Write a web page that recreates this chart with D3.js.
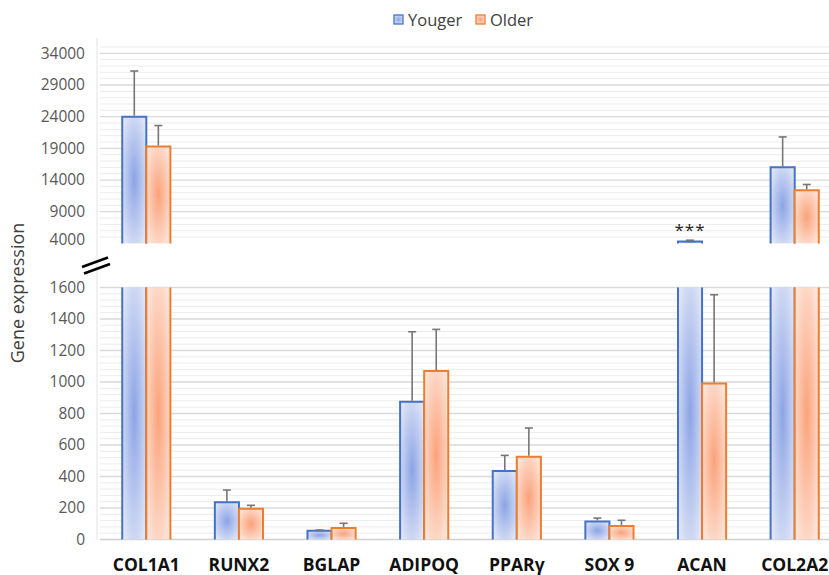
<!DOCTYPE html>
<html>
<head>
<meta charset="utf-8">
<script src="https://cdn.jsdelivr.net/npm/d3@7"></script>
<style>
  body { margin: 0; background: #fff; }
  svg { display: block; font-family: "Open Sans", "Liberation Sans", sans-serif; }
</style>
</head>
<body>
<div id="chart"></div>
<script>
// data
const genes = ["COL1A1", "RUNX2", "BGLAP", "ADIPOQ", "PPARγ", "SOX 9", "ACAN", "COL2A2"];
const seriesNames = ["Youger", "Older"];
const youngerMean = [24000, 236, 56, 875, 435, 115, 4300, 16000];
const youngerSd   = [7200, 78, 4, 444, 99, 21, 200, 4800];
const olderMean   = [19300, 196, 73, 1070, 526, 86, 990, 12400];
const olderSd     = [3300, 21, 30, 264, 182, 36, 564, 900];
const lowTicks = [0, 200, 400, 600, 800, 1000, 1200, 1400, 1600];
const highTicks = [4000, 9000, 14000, 19000, 24000, 29000, 34000];
const significance = [{ gene: "ACAN", series: "Youger", label: "***" }];

const width = 829, height = 575;
const breakLow = 1600, breakHigh = 4000;

const svg = d3.select("#chart").append("svg")
  .attr("width", width)
  .attr("height", height);

const defs = svg.append("defs");
const palette = {
  Youger: { stroke: "#4472c4", center: "#8ca4e6", edge: "#dfe5f6" },
  Older:  { stroke: "#ed7d31", center: "#fba27a", edge: "#fde4d8" }
};
seriesNames.forEach((s, i) => {
  const g = defs.append("radialGradient").attr("id", "grad" + i)
    .attr("cx", 0.5).attr("cy", 0.5).attr("r", 0.62);
  g.append("stop").attr("offset", "0%").attr("stop-color", palette[s].center);
  g.append("stop").attr("offset", "100%").attr("stop-color", palette[s].edge);
});

const x = d3.scaleBand().domain(genes).range([100, 841]).paddingInner(0.48).paddingOuter(0.24);
const xs = d3.scaleBand().domain(seriesNames).range([0, x.bandwidth()]);
const yLow = d3.scaleLinear().domain([0, breakLow]).range([539.5, 287.5]);
const yHigh = d3.scaleLinear().domain([breakHigh, 34000]).range([243.4, 53.3]);

// gridlines
const gridX0 = 100, gridX1 = width;
const lowMinor = d3.range(40, breakLow + 1, 40);
const highMinor = d3.range(5000, 35001, 1000);
const grid = svg.append("g");
grid.selectAll(".minL").data(lowMinor.filter(v => v % 200 !== 0)).join("line")
  .attr("x1", gridX0).attr("x2", gridX1)
  .attr("y1", d => yLow(d)).attr("y2", d => yLow(d))
  .attr("stroke", "#ececec").attr("stroke-width", 1);
grid.selectAll(".minH").data(highMinor.filter(v => (v - 4000) % 5000 !== 0)).join("line")
  .attr("x1", gridX0).attr("x2", gridX1)
  .attr("y1", d => yHigh(d)).attr("y2", d => yHigh(d))
  .attr("stroke", "#ececec").attr("stroke-width", 1);
grid.selectAll(".majL").data(lowTicks.slice(1)).join("line")
  .attr("x1", gridX0).attr("x2", gridX1)
  .attr("y1", d => yLow(d)).attr("y2", d => yLow(d))
  .attr("stroke", "#d9d9d9").attr("stroke-width", 1.3);
grid.selectAll(".majH").data(highTicks.slice(1)).join("line")
  .attr("x1", gridX0).attr("x2", gridX1)
  .attr("y1", d => yHigh(d)).attr("y2", d => yHigh(d))
  .attr("stroke", "#d9d9d9").attr("stroke-width", 1.3);

// axis lines
svg.append("line").attr("x1", 97).attr("x2", 97).attr("y1", 38).attr("y2", 540)
  .attr("stroke", "#e3e3e3").attr("stroke-width", 1);
svg.append("line").attr("x1", gridX0).attr("x2", gridX1)
  .attr("y1", yLow(0)).attr("y2", yLow(0))
  .attr("stroke", "#d0d0d0").attr("stroke-width", 1.5);

// tick labels
const tickStyle = sel => sel.attr("x", 85).attr("text-anchor", "end")
  .attr("dy", "0.35em").attr("font-size", 15.5).attr("fill", "#595959");
svg.append("g").selectAll("text").data(lowTicks).join("text")
  .call(tickStyle).attr("y", d => yLow(d)).text(d => d);
svg.append("g").selectAll("text").data(highTicks).join("text")
  .call(tickStyle).attr("y", d => d === breakHigh ? yHigh(d) - 4 : yHigh(d)).text(d => d);

// bars
const rows = [];
genes.forEach((g, i) => {
  rows.push({ gene: g, series: "Youger", idx: 0, mean: youngerMean[i], sd: youngerSd[i] });
  rows.push({ gene: g, series: "Older", idx: 1, mean: olderMean[i], sd: olderSd[i] });
});

const bars = svg.append("g");
rows.forEach(d => {
  const x0 = x(d.gene) + xs(d.series), w = xs.bandwidth();
  const col = palette[d.series].stroke;
  // lower panel segment
  const lowTop = Math.min(d.mean, breakLow);
  const yl = yLow(lowTop), yb = yLow(0);
  bars.append("rect").attr("x", x0).attr("y", yl).attr("width", w).attr("height", yb - yl)
    .attr("fill", `url(#grad${d.idx})`);
  const open = d.mean > breakLow;
  bars.append("path")
    .attr("d", open
      ? `M${x0},${yb}V${yl}M${x0 + w},${yl}V${yb}`
      : `M${x0},${yb}V${yl}H${x0 + w}V${yb}`)
    .attr("fill", "none").attr("stroke", col).attr("stroke-width", 2);
  // upper panel segment
  if (d.mean > breakHigh) {
    const yt = yHigh(d.mean), ybt = yHigh(breakHigh);
    bars.append("rect").attr("x", x0).attr("y", yt).attr("width", w).attr("height", ybt - yt)
      .attr("fill", `url(#grad${d.idx})`);
    bars.append("path").attr("d", `M${x0},${ybt}V${yt}H${x0 + w}V${ybt}`)
      .attr("fill", "none").attr("stroke", col).attr("stroke-width", 2);
  }
  // error bar (upper side only)
  const sc = d.mean > breakHigh ? yHigh : yLow;
  const cx = x0 + w / 2;
  bars.append("line").attr("x1", cx).attr("x2", cx)
    .attr("y1", sc(d.mean) - 1).attr("y2", sc(d.mean + d.sd))
    .attr("stroke", "#767676").attr("stroke-width", 1.6);
  bars.append("line").attr("x1", cx - 4).attr("x2", cx + 4)
    .attr("y1", sc(d.mean + d.sd)).attr("y2", sc(d.mean + d.sd))
    .attr("stroke", "#767676").attr("stroke-width", 1.6);
});

// significance marks
significance.forEach(s => {
  const r = rows.find(d => d.gene === s.gene && d.series === s.series);
  const sc = r.mean > breakHigh ? yHigh : yLow;
  svg.append("text")
    .attr("x", x(s.gene) + xs(s.series) + xs.bandwidth() / 2)
    .attr("y", sc(r.mean + r.sd) - 4)
    .attr("text-anchor", "middle").attr("font-size", 17).attr("fill", "#222")
    .attr("letter-spacing", 1)
    .text(s.label);
});

// axis break mark
const brk = svg.append("g").attr("stroke", "#000").attr("stroke-width", 2.6);
brk.append("line").attr("x1", 82).attr("y1", 267).attr("x2", 108).attr("y2", 257.5);
brk.append("line").attr("x1", 84).attr("y1", 273.5).attr("x2", 110).attr("y2", 264);

// category labels
svg.append("g").selectAll("text").data(genes).join("text")
  .attr("x", d => x(d) + x.bandwidth() / 2)
  .attr("y", 571)
  .attr("text-anchor", "middle")
  .attr("font-size", 17.5).attr("font-weight", "bold").attr("fill", "#111")
  .text(d => d);

// y title
svg.append("text")
  .attr("transform", "translate(24,293) rotate(-90)")
  .attr("text-anchor", "middle")
  .attr("font-size", 18).attr("fill", "#404040")
  .text("Gene expression");

// legend
const legendPos = [394, 476];
const legend = svg.append("g");
seriesNames.forEach((s, i) => {
  legend.append("rect").attr("x", legendPos[i]).attr("y", 15).attr("width", 9).attr("height", 9)
    .attr("fill", `url(#grad${i})`).attr("stroke", palette[s].stroke).attr("stroke-width", 1.3);
  legend.append("text").attr("x", legendPos[i] + 14).attr("y", 25.5)
    .attr("font-size", 16.5).attr("fill", "#404040").text(s);
});
</script>
</body>
</html>
